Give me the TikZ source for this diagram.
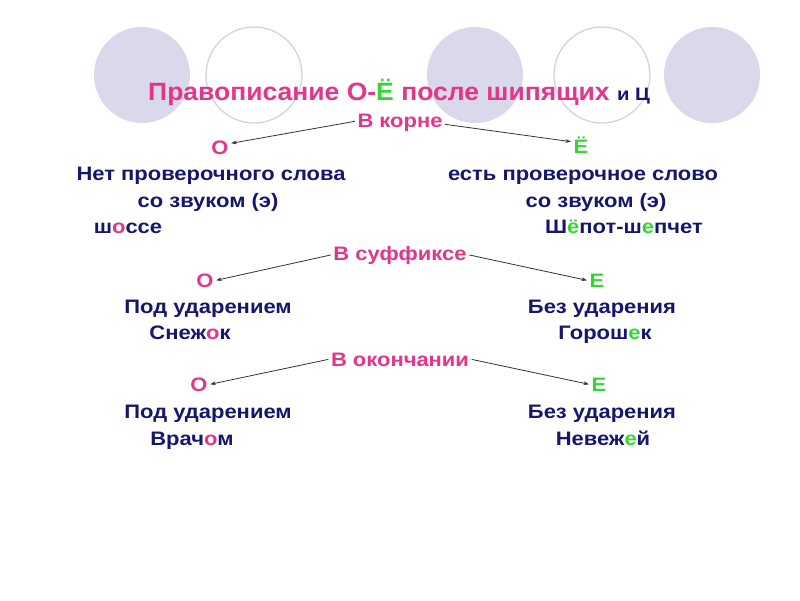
\documentclass[tikz,border=0pt]{standalone}
\usepackage{fontspec}
\setmainfont{Liberation Sans}
\newfontfamily\bodyf{Liberation Sans}[FakeStretch=1.126]
\newfontfamily\titlef{Liberation Sans}[FakeStretch=1.06]
\usetikzlibrary{arrows.meta}
\definecolor{pk}{HTML}{E2358B}
\definecolor{gr}{HTML}{33D633}
\definecolor{nv}{HTML}{16166E}
\definecolor{circ}{HTML}{D9D9EB}
\definecolor{ring}{HTML}{D4D4DC}
\definecolor{ln}{HTML}{333333}
\tikzset{
  txt/.style={font=\bodyf\bfseries\fontsize{19.5}{22}\selectfont, text=nv, inner sep=2.5pt, anchor=base},
  lab/.style={txt, text=pk},
  letO/.style={txt, text=pk},
  letE/.style={txt, text=gr},
  arr/.style={draw=ln, line width=0.8pt, -{Stealth[length=5.5pt,width=3.8pt]}},
  disc/.style={fill=circ, draw=none},
  ringc/.style={draw=ring, line width=1.3pt, fill=none}
}
\begin{document}
\begin{tikzpicture}[x=1pt,y=-1pt]
\fill[white] (0,0) rectangle (800,600);
\useasboundingbox (0,0) rectangle (800,600);
% background circles
\path[disc] (142,75) circle (48);
\path[ringc] (254,75) circle (48);
\path[disc] (475,75) circle (48);
\path[ringc] (602,75) circle (48);
\path[disc] (712,75) circle (48);
% title
\node[anchor=base west, inner sep=0, font=\titlef\bfseries\fontsize{25}{28}\selectfont, text=pk] (title) at (148,100)
  {Правописание О-\textcolor{gr}{Ё} после шипящих {\bodyf\bfseries\fontsize{18}{20}\selectfont\textcolor{nv}{и Ц}}};
% root
\node[lab] (koren) at (400,127) {В корне};
\node[letO] (o1) at (220,154) {О};
\node[letE] (e1) at (581,153) {Ё};
\node[txt] (l1a) at (211,180) {Нет проверочного слова};
\node[txt] (l1b) at (208,207) {со звуком (э)};
\node[txt] (l1c) at (128,233) {ш\textcolor{pk}{о}ссе};
\node[txt] (r1a) at (583,180) {есть проверочное слово};
\node[txt] (r1b) at (596,207) {со звуком (э)};
\node[txt] (r1c) at (624,233) {Ш\textcolor{gr}{ё}пот-ш\textcolor{gr}{е}пчет};
% suffix
\node[lab] (suf) at (400,260) {В суффиксе};
\node[letO] (o2) at (205,287) {О};
\node[letE] (e2) at (597,287) {Е};
\node[txt] (l2a) at (208,313) {Под ударением};
\node[txt] (l2b) at (190,339) {Снеж\textcolor{pk}{о}к};
\node[txt] (r2a) at (602,313) {Без ударения};
\node[txt] (r2b) at (605,339) {Горош\textcolor{gr}{е}к};
% ending
\node[lab] (okon) at (400,366) {В окончании};
\node[letO] (o3) at (199,391) {О};
\node[letE] (e3) at (599,391) {Е};
\node[txt] (l3a) at (208,418) {Под ударением};
\node[txt] (l3b) at (192,445) {Врач\textcolor{pk}{о}м};
\node[txt] (r3a) at (602,418) {Без ударения};
\node[txt] (r3b) at (603,445) {Невеж\textcolor{gr}{е}й};
% arrows
\draw[arr] ([yshift=1pt]koren.west) -- ([yshift=4pt]o1.east);
\draw[arr] ([yshift=-2pt]koren.east) -- ([yshift=3pt]e1.west);
\draw[arr] (suf.west) -- (o2.east);
\draw[arr] (suf.east) -- (e2.west);
\draw[arr] (okon.west) -- (o3.east);
\draw[arr] (okon.east) -- (e3.west);
\end{tikzpicture}
\end{document}
